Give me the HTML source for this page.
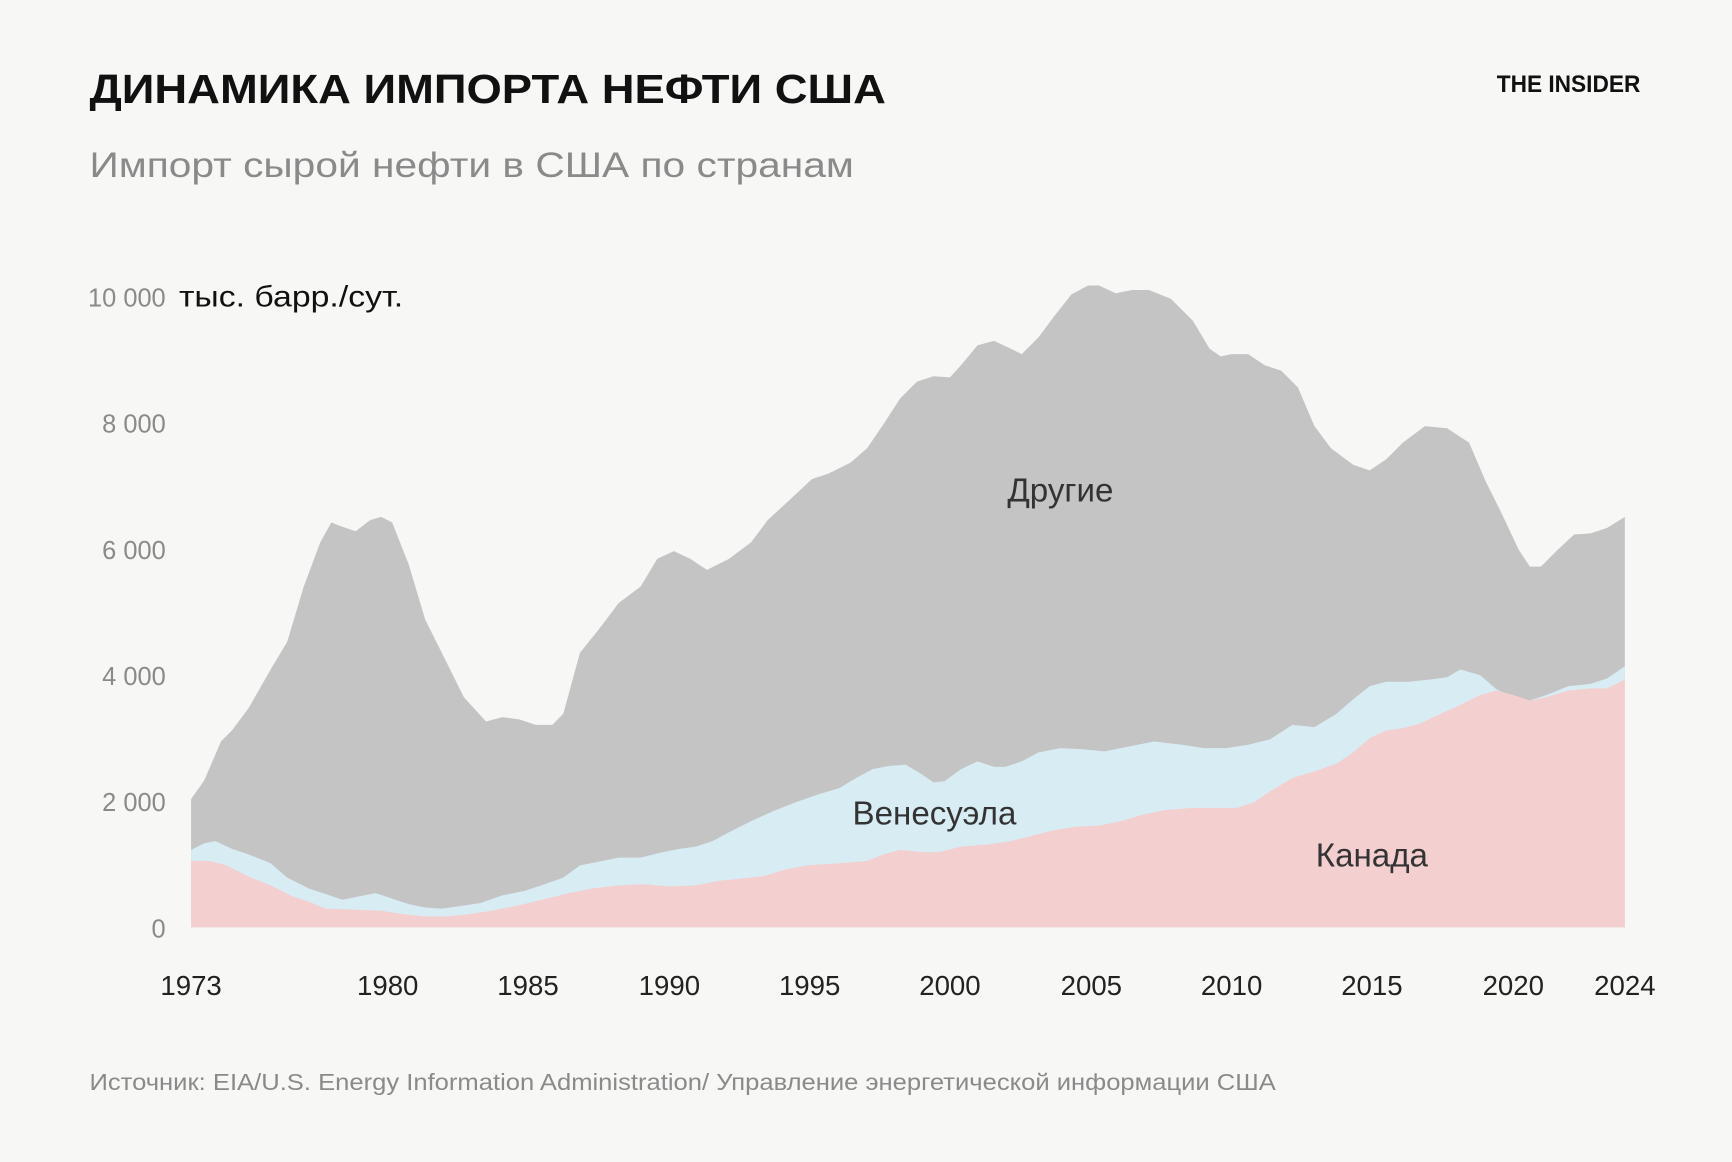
<!DOCTYPE html>
<html><head><meta charset="utf-8"><style>
html,body{margin:0;padding:0;background:#f7f7f5;}
svg{display:block;}
text{font-family:"Liberation Sans",sans-serif;}
</style></head><body>
<svg width="1732" height="1162" viewBox="0 0 1568 1050" preserveAspectRatio="none" xmlns="http://www.w3.org/2000/svg">
<rect width="1568" height="1050" fill="#f7f7f5"/>
<text x="81" y="93" font-size="37" font-weight="bold" fill="#111" textLength="721" lengthAdjust="spacingAndGlyphs">ДИНАМИКА ИМПОРТА НЕФТИ США</text>
<text x="1355" y="83" font-size="22" font-weight="bold" fill="#111" textLength="130" lengthAdjust="spacingAndGlyphs">THE INSIDER</text>
<text x="81" y="160" font-size="32" fill="#8a8a8a" textLength="692" lengthAdjust="spacingAndGlyphs">Импорт сырой нефти в США по странам</text>

<polygon fill="#c4c4c4" points="173,838 173,722 185,705 200,670 210,660 225,640 245,605 260,580 275,530 290,490 300,472 307,475 322,480 335,470 345,467 355,472 370,510 385,560 400,590 420,630 440,652 455,648 470,650 485,655 500,655 510,645 525,590 545,565 560,545 580,530 595,505 610,498 625,505 640,515 660,505 680,490 695,470 720,447 735,433 750,428 770,418 785,405 800,383 815,360 830,345 845,340 860,341 870,330 885,312 900,308 915,315 925,320 940,305 955,285 970,266 985,258 995,258 1010,265 1025,262 1040,262 1060,270 1080,290 1095,315 1105,322 1115,320 1130,320 1145,330 1160,335 1175,350 1190,385 1205,405 1225,420 1240,425 1255,415 1270,400 1290,385 1310,387 1330,400 1345,435 1360,465 1375,497 1385,512 1395,512 1410,497 1425,483 1440,482 1455,477 1471,467 1471,838"/>
<polygon fill="#d8ecf4" points="173,838 173,768 185,762 195,760 210,767 225,772 245,780 260,793 280,803 295,808 310,813 325,810 340,807 355,812 370,817 385,820 400,821 415,819 435,816 455,809 475,805 490,800 510,793 525,782 545,778 560,775 580,775 600,770 615,767 630,765 645,760 660,752 680,742 700,733 720,725 740,718 760,712 775,703 790,695 805,692 820,691 835,700 845,707 855,706 870,695 885,688 900,693 910,693 925,688 940,680 960,676 980,677 1000,679 1020,675 1045,670 1070,673 1090,676 1110,676 1130,673 1150,668 1170,655 1190,657 1210,645 1225,632 1240,620 1255,616 1275,616 1295,614 1310,612 1322,605 1340,610 1355,623 1370,630 1385,633 1400,628 1420,620 1440,618 1455,613 1471,602 1471,838"/>
<polygon fill="#f3cfd0" points="173,838 173,778 190,778 205,782 225,792 245,800 265,810 280,815 295,821 320,822 345,823 365,826 385,828 405,828 425,826 445,823 470,818 495,812 515,807 535,803 560,800 585,799 605,801 630,800 650,796 670,794 690,792 710,786 730,782 760,780 785,778 800,772 815,768 835,770 850,770 870,765 895,763 915,760 935,755 955,750 975,747 995,746 1015,742 1035,736 1055,732 1080,730 1100,730 1120,730 1135,725 1150,715 1170,703 1190,697 1210,690 1225,680 1240,667 1255,660 1270,658 1285,654 1300,647 1320,638 1340,628 1355,624 1370,628 1385,633 1400,630 1420,624 1440,622 1455,622 1471,614 1471,838"/>

<g font-size="23" fill="#8a8a8a" text-anchor="end">
<text x="150" y="277">10 000</text>
<text x="150" y="391">8 000</text>
<text x="150" y="505">6 000</text>
<text x="150" y="619">4 000</text>
<text x="150" y="733">2 000</text>
<text x="150" y="847">0</text>
</g>
<text x="162" y="277" font-size="27" fill="#111" textLength="203" lengthAdjust="spacingAndGlyphs">тыс. барр./сут.</text>

<g font-size="25" fill="#222" text-anchor="middle">
<text x="173" y="899">1973</text>
<text x="351" y="899">1980</text>
<text x="478" y="899">1985</text>
<text x="606" y="899">1990</text>
<text x="733" y="899">1995</text>
<text x="860" y="899">2000</text>
<text x="988" y="899">2005</text>
<text x="1115" y="899">2010</text>
<text x="1242" y="899">2015</text>
<text x="1370" y="899">2020</text>
<text x="1471" y="899">2024</text>
</g>

<g font-size="30" fill="#333" text-anchor="middle">
<text x="960" y="453">Другие</text>
<text x="846" y="745">Венесуэла</text>
<text x="1242" y="783">Канада</text>
</g>

<text x="81" y="985" font-size="21" fill="#8a8a8a" textLength="1074" lengthAdjust="spacingAndGlyphs">Источник: EIA/U.S. Energy Information Administration/ Управление энергетической информации США</text>
</svg>
</body></html>
